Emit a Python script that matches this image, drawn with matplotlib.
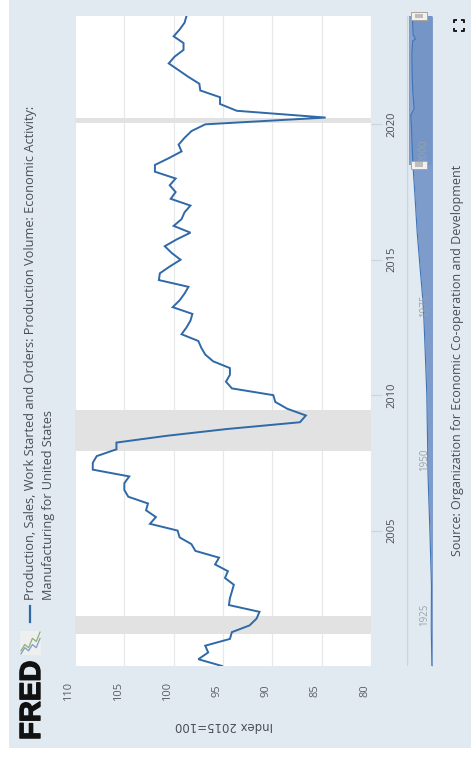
import numpy as np
import matplotlib
matplotlib.use("Agg")
import matplotlib.pyplot as plt
import matplotlib.patheffects as pe
from matplotlib.patches import Rectangle

plt.rcParams['font.family'] = ['Open Sans', 'DejaVu Sans']

W, H = 471, 762
BG = '#E1E9F1'
LINE = '#2F69A8'
TEXT = '#4A4F55'

# quarterly index, 2000 Q1 to 2024 Q1
index_values = [
    95.1, 97.5, 96.5, 96.8, 94.3, 94.1, 92.3, 91.6, 91.3, 94.4, 94.3, 94.1, 93.9, 94.8, 94.5, 95.8,
    95.4, 97.8, 98.2, 99.4, 99.6, 102.4, 101.8, 102.8, 102.6, 104.6, 105.0, 105.0, 104.5, 108.2, 108.2, 107.8,
    105.8, 105.8, 100.7, 94.6, 87.2, 86.6, 88.5, 89.7, 89.9, 94.1, 94.7, 94.3, 94.3, 96.0, 96.8, 97.2,
    97.5, 99.2, 98.7, 98.3, 98.1, 100.1, 99.4, 98.9, 98.5, 101.5, 101.4, 100.4, 99.3, 100.2, 100.9, 99.7,
    98.3, 100.0, 99.2, 98.9, 98.3, 100.3, 99.8, 100.4, 99.8, 101.9, 101.9, 100.5, 99.2, 99.5, 98.9, 98.2,
    96.8, 84.6, 93.6, 95.3, 95.3, 97.3, 97.4, 98.5, 99.5, 100.5, 99.9, 99.0, 99.0, 100.0, 99.4, 98.9, 98.7,
]
start_year = 2000
value_ticks = [110, 105, 100, 95, 90, 85, 80]
year_ticks = [2005, 2010, 2015, 2020]
recessions = [(2001.2, 2001.85), (2007.95, 2009.45), (2020.05, 2020.25)]

# navigator (full history)
nav_years = [1919, 1925, 1932, 1940, 1950, 1955, 1963, 1970, 1975, 1978, 1983, 1989, 1995, 2000,
             2005, 2008, 2009, 2012, 2015, 2018, 2020, 2020.25, 2021, 2024]
nav_values = [3, 6, 5, 12, 22, 24, 28, 36, 42, 47, 60, 75, 86, 96,
              102, 106, 90, 97, 100, 101, 97, 84, 95, 99]
nav_labels = [1925, 1950, 1975, 2000]
selection = (2000, 2024)


def px_axes(fig, left, top, right, bottom, **kw):
    return fig.add_axes([left / W, 1 - bottom / H, (right - left) / W, (bottom - top) / H], **kw)


fig = plt.figure(figsize=(W / 100, H / 100), dpi=100, facecolor='white')
fig.add_artist(Rectangle((9 / W, 1 - 748 / H), (W - 9) / W, 748 / H, transform=fig.transFigure,
                         facecolor=BG, edgecolor='none', zorder=-1))

# main chart, sideways: time runs up, value runs left
ax = px_axes(fig, 75, 16, 371, 666)
ax.set_facecolor('white')
years = start_year + np.arange(len(index_values)) / 4
for a, b in recessions:
    ax.axhspan(a, b, color='#E2E2E2', lw=0, zorder=1)
ax.plot(index_values, years, color=LINE, lw=1.4, solid_joinstyle='miter', zorder=3)
ax.set_xlim(110, 80)
ax.set_ylim(2000, 2024)
for s in ax.spines.values():
    s.set_visible(False)
ax.set_xticks(value_ticks)
ax.set_xticklabels([])
ax.tick_params(axis='x', length=0)
ax.grid(axis='x', color='#E6E8EA', lw=0.9, zorder=0)
ax.set_axisbelow(True)
ax.yaxis.tick_right()
ax.set_yticks(year_ticks)
ax.set_yticklabels([str(y) for y in year_ticks], rotation=90, va='center', color=TEXT, fontsize=8)
ax.tick_params(axis='y', length=8, width=0.8, color='#CBD5DF', pad=3)
for v in value_ticks:
    ax.annotate(str(v), xy=(v, 0), xycoords=ax.get_xaxis_transform(), xytext=(-4.5, -18),
                textcoords='offset points', rotation=90, ha='center', va='center',
                color='#5A6068', fontsize=8)

fig.text(224 / W, 1 - 726 / H, 'Index 2015=100', rotation=180, ha='center', va='center',
         color=TEXT, fontsize=8.5, family=['DejaVu Sans'])

# header
fig.text(31 / W, 1 - 600 / H, 'Production, Sales, Work Started and Orders: Production Volume: Economic Activity:',
         rotation=90, ha='center', va='bottom', color=TEXT, fontsize=9.15)
fig.text(49 / W, 1 - 600 / H, 'Manufacturing for United States', rotation=90, ha='center', va='bottom',
         color=TEXT, fontsize=9.1)
fig.add_artist(plt.Line2D([30 / W, 30 / W], [1 - 622 / H, 1 - 606 / H], color=LINE, lw=1.6))
fig.text(32 / W, 1 - 740 / H, 'FRED', rotation=90, ha='center', va='bottom', color='#111111',
         fontsize=21, fontweight='bold', family=['Liberation Sans'],
         path_effects=[pe.withStroke(linewidth=1.0, foreground='#111111')])

# FRED logo thumbnail
logo = px_axes(fig, 20, 631, 41, 655)
logo.plot([0, 1, 2, 3, 4, 5], [1, 3, 2, 5, 4, 7], color='#8FB07A', lw=0.9)
logo.plot([0, 1, 2, 3, 4, 5], [0, 2, 1, 3, 2, 5], color='#7F9CC0', lw=0.9)
logo.set_axis_off()
logo.add_patch(Rectangle((0, 0), 1, 1, transform=logo.transAxes, facecolor='#EEF0F0', edgecolor='none', zorder=0))

# navigator
nav = px_axes(fig, 407, 16, 433, 666)
nav.patch.set_alpha(0)
nav.set_xlim(125, -2.5)
nav.set_ylim(1919, 2024)
nav.set_axis_off()
nav.plot([125, 125], [1919, 2024], color='#CBD3DC', lw=1.0)
nav.fill_betweenx(nav_years, nav_values, 0, color='#7E9CCB', lw=0)
nav.axhspan(selection[0], selection[1], xmin=(125 - 115) / 127.5, xmax=(125 + 0) / 127.5,
            color='#7595C6', lw=0, zorder=2)
nav.fill_betweenx(nav_years, nav_values, 115, where=[y >= selection[0] for y in nav_years],
                  color='#A9BCDB', lw=0, alpha=0.35, zorder=2.5)
nav.plot(nav_values, nav_years, color='#3F74B5', lw=0.8, zorder=3)
for y in nav_labels:
    nav.annotate(str(y), xy=(40, y), xytext=(0, 2), textcoords='offset points', rotation=90,
                 ha='center', va='bottom', color='#9AA2AB', fontsize=7, zorder=4)
for y in selection:
    nav.add_patch(Rectangle((28, y - 0.65), 78, 1.3, facecolor='#F3F1EC', edgecolor='#A9A59B', lw=0.7, zorder=5,
                            clip_on=False))
    nav.add_patch(Rectangle((48, y - 0.35), 38, 0.7, facecolor='#BDBDBD', edgecolor='none', zorder=6,
                            clip_on=False))

fig.text(457 / W, 1 - 556 / H, 'Source: Organization for Economic Co-operation and Development',
         rotation=90, ha='center', va='bottom', color=TEXT, fontsize=9.0)

# fullscreen icon
icon = px_axes(fig, 453, 19, 465, 32)
icon.set_xlim(0, 12)
icon.set_ylim(13, 0)
icon.set_axis_off()
for cx, cy, dx, dy in [(1, 1, 1, 1), (11, 1, -1, 1), (1, 12, 1, -1), (11, 12, -1, -1)]:
    icon.plot([cx + 3 * dx, cx, cx], [cy, cy, cy + 3 * dy], color='#1A1A1A', lw=1.4, solid_capstyle='butt')

fig.savefig('out.png', dpi=100, facecolor='white')
